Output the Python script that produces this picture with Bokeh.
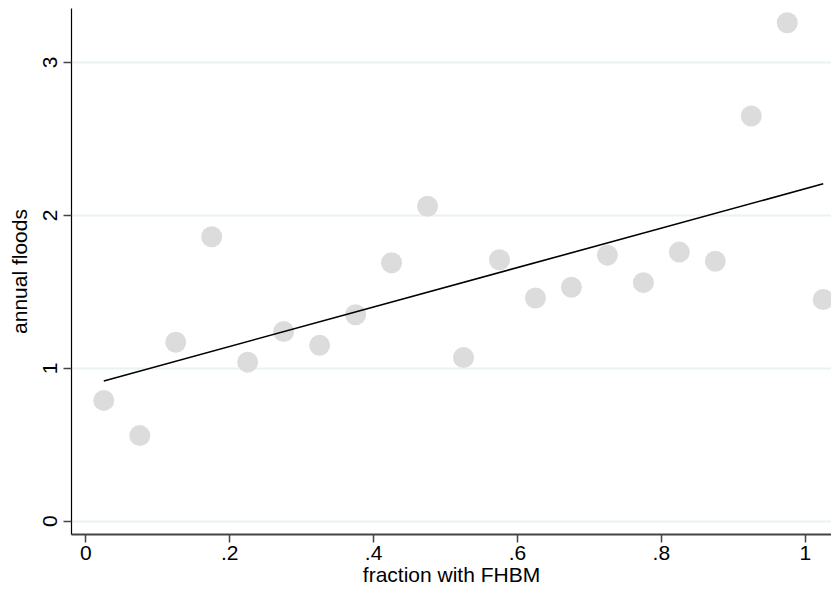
import numpy as np
from bokeh.plotting import figure
from bokeh.models import FixedTicker, Range1d
from bokeh.embed import file_html
from bokeh.resources import INLINE

# data
fraction = [0.025, 0.075, 0.125, 0.175, 0.225, 0.275, 0.325, 0.375, 0.425, 0.475,
            0.525, 0.575, 0.625, 0.675, 0.725, 0.775, 0.825, 0.875, 0.925, 0.975, 1.025]
floods = [0.79, 0.56, 1.17, 1.86, 1.04, 1.24, 1.15, 1.35, 1.69, 2.06,
          1.07, 1.71, 1.46, 1.53, 1.74, 1.56, 1.76, 1.70, 2.65, 3.26, 1.45]
x_ticks = [0, 0.2, 0.4, 0.6, 0.8, 1.0]
x_tick_labels = ["0", ".2", ".4", ".6", ".8", "1"]
y_ticks = [0, 1, 2, 3]
y_tick_labels = ["0", "1", "2", "3"]

slope, intercept = np.polyfit(fraction, floods, 1)
fit_x = [fraction[0], fraction[-1]]
fit_y = [intercept + slope * v for v in fit_x]

FONT = "Liberation Sans"

p = figure(width=831, height=594, output_backend="svg", toolbar_location=None,
           x_range=Range1d(-0.0199, 1.0365), y_range=Range1d(-0.087, 3.353),
           min_border_left=71, min_border_right=0, min_border_top=8, min_border_bottom=60)
p.outline_line_color = None
p.background_fill_color = "white"

p.scatter(fraction, floods, size=21, color="#dcdcdc", line_color=None)
p.line(fit_x, fit_y, line_color="black", line_width=1.6)

p.xaxis.ticker = FixedTicker(ticks=x_ticks)
p.xaxis.major_label_overrides = {t: l for t, l in zip(x_ticks, x_tick_labels)}
p.yaxis.ticker = FixedTicker(ticks=y_ticks)
p.yaxis.major_label_overrides = {t: l for t, l in zip(y_ticks, y_tick_labels)}
p.yaxis.major_label_orientation = "vertical"

p.xaxis.axis_label = "fraction with FHBM"
p.yaxis.axis_label = "annual floods"

for ax in (p.xaxis, p.yaxis):
    ax.major_tick_line_color = "#444444"
    ax.major_tick_line_width = 1.5
    ax.major_tick_out = 8
    ax.major_tick_in = 0
    ax.minor_tick_line_color = None
    ax.major_label_text_font = FONT
    ax.major_label_text_font_size = "21px"
    ax.major_label_text_color = "black"
    ax.axis_label_text_font = FONT
    ax.axis_label_text_font_size = "21px"
    ax.axis_label_text_font_style = "normal"
    ax.axis_label_text_color = "black"
p.xaxis.axis_line_color = "#444444"
p.xaxis.axis_line_width = 2
p.yaxis.axis_line_color = "black"
p.yaxis.axis_line_width = 1.2
p.xaxis.major_label_standoff = 3
p.xaxis.axis_label_standoff = 0
p.yaxis.major_label_standoff = 6
p.yaxis.axis_label_standoff = 10

p.xgrid.grid_line_color = None
p.ygrid.grid_line_color = "#eaf2f3"
p.ygrid.grid_line_width = 2

open("out.html", "w").write(file_html(p, INLINE))
